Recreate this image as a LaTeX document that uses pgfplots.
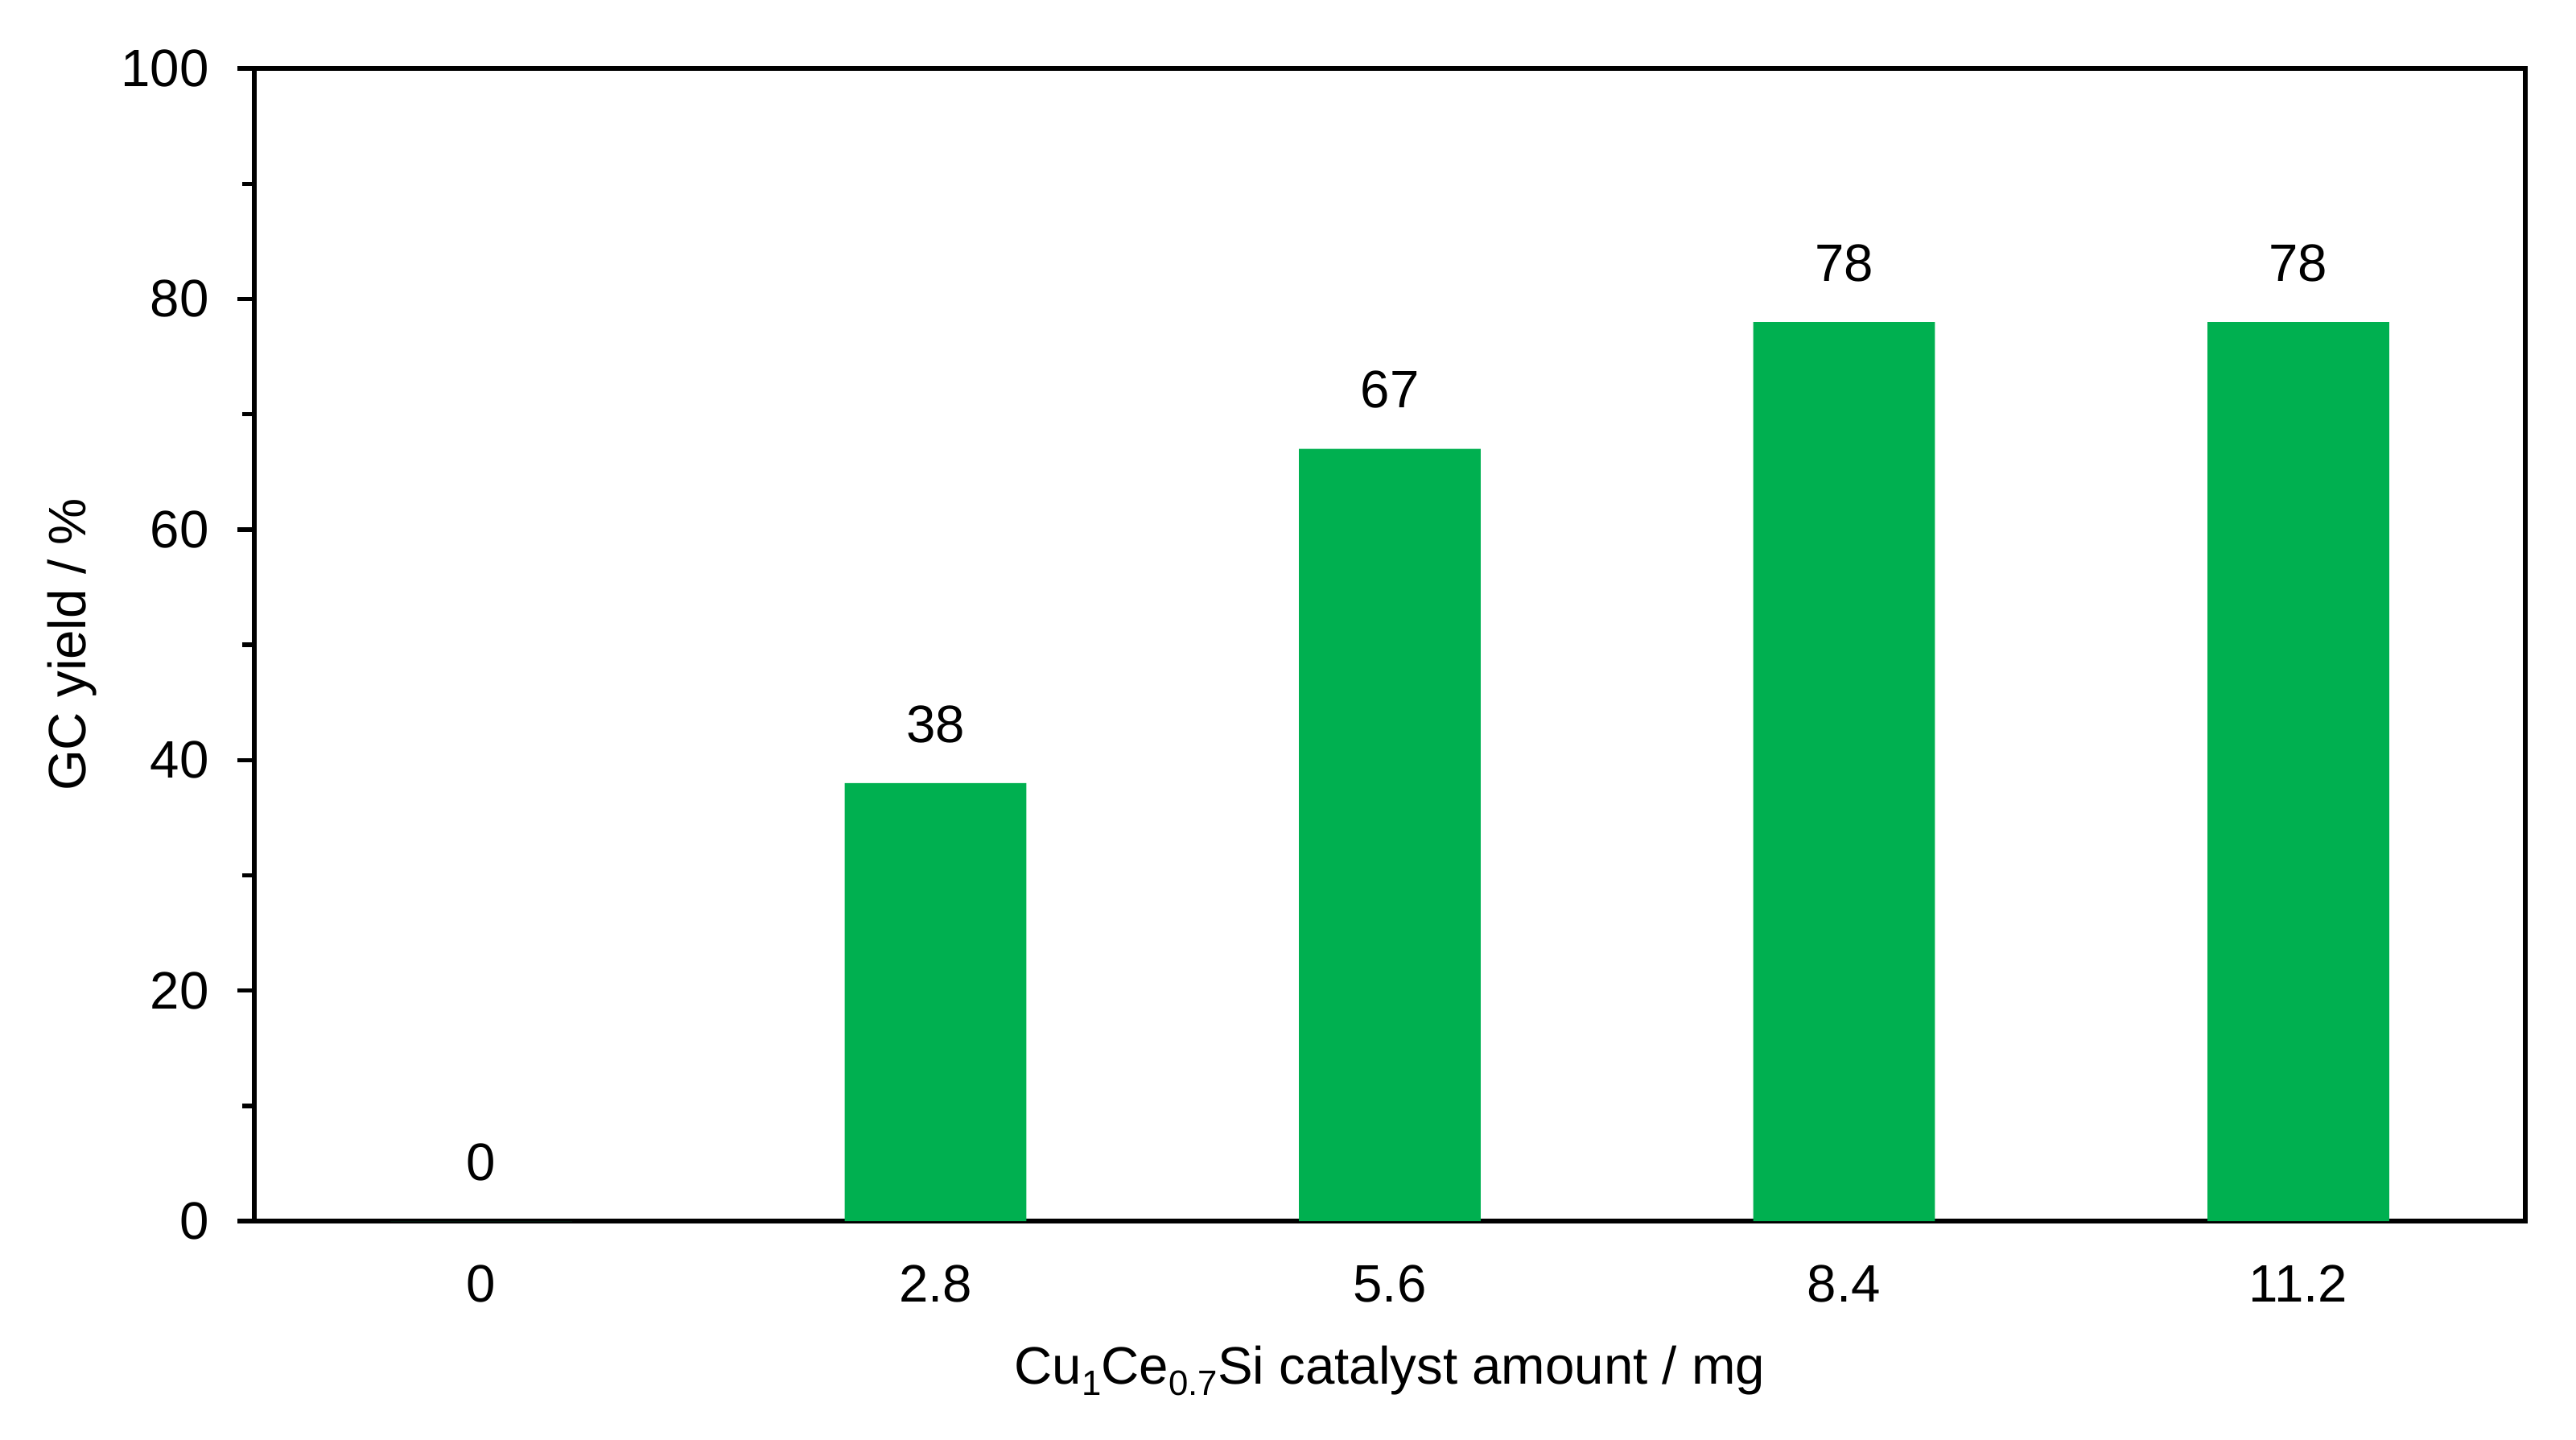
\documentclass[border=0pt]{standalone}
\usepackage{fontspec}
\setmainfont{Liberation Sans}
\usepackage{pgfplots}
\pgfplotsset{compat=1.18}
\definecolor{xlgreen}{RGB}{0,176,80}

\begin{document}
\begin{tikzpicture}
\begin{axis}[
  scale only axis,
  width=677.1pt, height=343.6pt,
  font=\fontsize{15.7}{18}\selectfont,
  /pgf/number format/assume math mode=true,
  ymin=0, ymax=100,
  ytick={0,20,...,100},
  minor y tick num=1,
  xmin=-0.5, xmax=4.5,
  xtick=data,
  xticklabels={0,2.8,5.6,8.4,11.2},
  ytick pos=left,
  tick align=outside,
  axis line style={line width=1.3pt},
  every tick/.style={black,line width=1.3pt},
  major tick length=5pt,
  minor tick length=3.6pt,
  x tick style={draw=none},
  xticklabel style={yshift=-4.6pt},
  yticklabel style={xshift=-5pt},
  xlabel={Cu\raisebox{-3.5pt}{\fontsize{10.5}{12}\selectfont 1}Ce\raisebox{-3.5pt}{\fontsize{10.5}{12}\selectfont 0.7}Si catalyst amount / mg},
  ylabel={GC yield / \%},
  xlabel style={yshift=-6pt},
  ylabel style={yshift=0.4pt},
  ybar, bar width=0.4,
  nodes near coords,
  every node near coord/.append style={black,anchor=south,yshift=8.5pt},
]
\addplot[fill=xlgreen, draw=none] coordinates {
  (0,0) (1,38) (2,67) (3,78) (4,78)};
\end{axis}
\path (current axis.south west) ++(-75.8pt,-65pt) coordinate (bbA);
\path (current axis.north east) ++(15.1pt,20.4pt) coordinate (bbB);
\path (bbA) rectangle (bbB);
\end{tikzpicture}
\end{document}
